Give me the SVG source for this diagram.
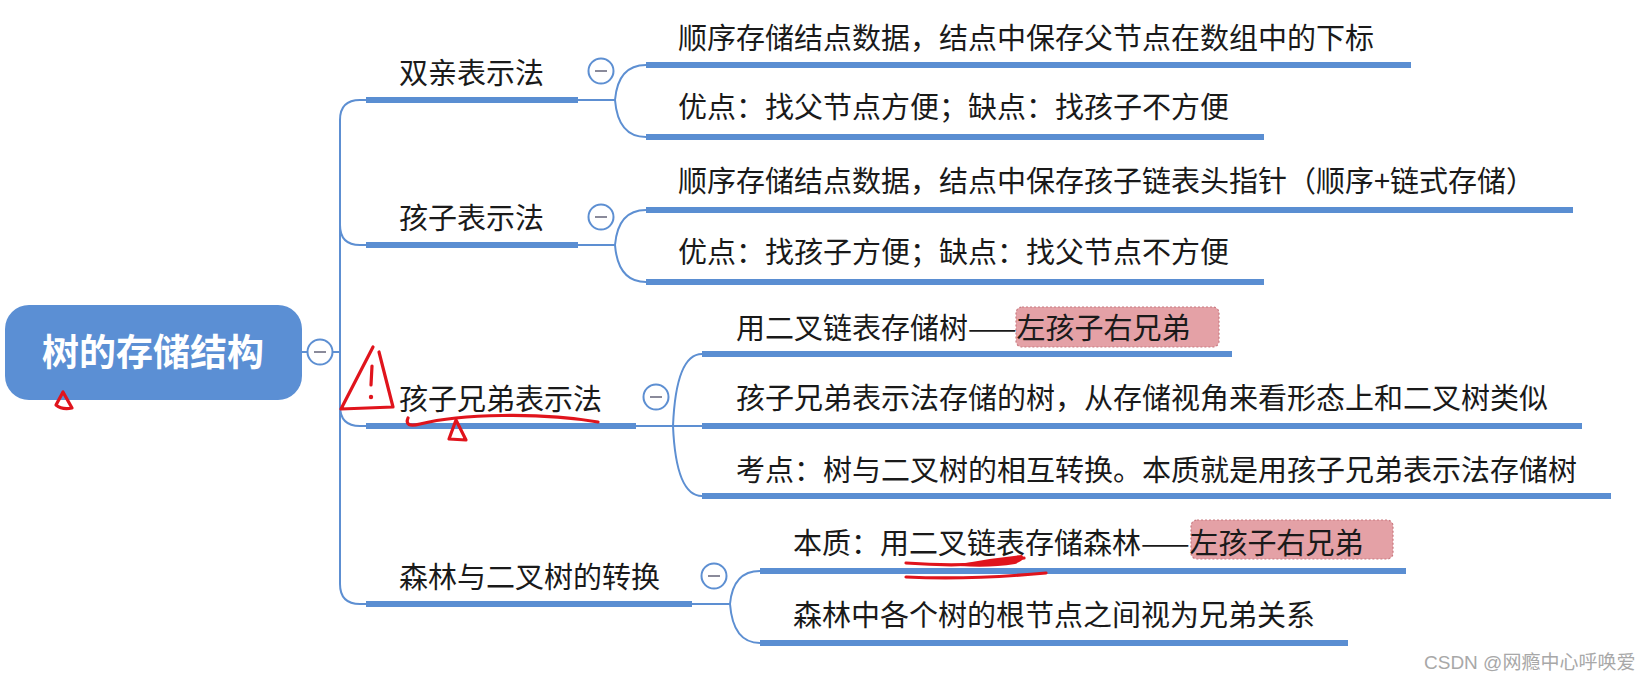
<svg xmlns="http://www.w3.org/2000/svg" width="1648" height="681" viewBox="0 0 1648 681">
<style>
.ul{stroke:#5a8ed2;stroke-width:6;fill:none}
.cn{stroke:#5d8fd2;stroke-width:2;fill:none}
.btn{fill:#fff;stroke:#5d8fd2;stroke-width:2}
.mn{stroke:#8a8a9a;stroke-width:2}
.t1{font-family:"Noto Sans CJK SC","Noto Sans",sans-serif;font-size:29px;fill:#1a1a1a}
.t2{font-family:"Noto Sans CJK SC","Noto Sans",sans-serif;font-size:29px;fill:#1a1a1a}
.hl{fill:#e4a1a6;stroke:#c97a80;stroke-width:1.2;stroke-dasharray:2 2}
.red{stroke:#e0141c;stroke-width:3.2;fill:none;stroke-linecap:round;stroke-linejoin:round}
</style>
<rect width="1648" height="681" fill="#fff"/>
<g id="connectors">
<line class="cn" x1="302" y1="352" x2="307" y2="352"/>
<line class="cn" x1="333" y1="352" x2="340" y2="352"/>
<path class="cn" d="M340,352 V120 Q340,100 360,100 H366"/>
<path class="cn" d="M340,352 V225 Q340,245 360,245 H366"/>
<path class="cn" d="M340,352 V406 Q340,426 360,426 H366"/>
<path class="cn" d="M340,352 V584 Q340,604 360,604 H366"/>
<path class="cn" d="M578,100 H615 M615,100 Q618,65 646,65 M615,100 Q618,137 646,137"/>
<path class="cn" d="M578,245 H615 M615,245 Q618,210 646,210 M615,245 Q618,282 646,282"/>
<path class="cn" d="M636,426 H702 M673,426 Q676,354 702,354 M673,426 Q676,496 702,496"/>
<path class="cn" d="M692,604 H730 M730,604 Q733,571 760,571 M730,604 Q733,643 760,643"/>
</g>
<g id="root">
<rect x="5" y="305" width="297" height="95" rx="24" fill="#5b8fd4"/>
<text x="153" y="366" text-anchor="middle" font-family="'Noto Sans CJK SC',sans-serif" font-size="37" font-weight="bold" fill="#fff">树的存储结构</text>
<circle class="btn" cx="320" cy="352" r="12.5"/><line class="mn" x1="314" y1="352" x2="326" y2="352"/>
</g>
<g id="shuangqin">
<line class="ul" x1="366" y1="100" x2="578" y2="100"/>
<text class="t1" x="399" y="84">双亲表示法</text>
<circle class="btn" cx="601" cy="71" r="12.5"/><line class="mn" x1="595" y1="71" x2="607" y2="71"/>
</g>
<g id="sq1"><line class="ul" x1="646" y1="65" x2="1411" y2="65"/><text class="t2" x="678" y="49">顺序存储结点数据，结点中保存父节点在数组中的下标</text></g>
<g id="sq2"><line class="ul" x1="646" y1="137" x2="1264" y2="137"/><text class="t2" x="678" y="118">优点：找父节点方便；缺点：找孩子不方便</text></g>
<g id="haizi">
<line class="ul" x1="366" y1="245" x2="578" y2="245"/>
<text class="t1" x="399" y="229">孩子表示法</text>
<circle class="btn" cx="601" cy="217" r="12.5"/><line class="mn" x1="595" y1="217" x2="607" y2="217"/>
</g>
<g id="hz1"><line class="ul" x1="646" y1="210" x2="1573" y2="210"/><text class="t2" x="678" y="192">顺序存储结点数据，结点中保存孩子链表头指针（顺序+链式存储）</text></g>
<g id="hz2"><line class="ul" x1="646" y1="282" x2="1264" y2="282"/><text class="t2" x="678" y="263">优点：找孩子方便；缺点：找父节点不方便</text></g>
<g id="haizixiongdi">
<line class="ul" x1="366" y1="426" x2="636" y2="426"/>
<text class="t1" x="399" y="410">孩子兄弟表示法</text>
<circle class="btn" cx="656" cy="397" r="12.5"/><line class="mn" x1="650" y1="397" x2="662" y2="397"/>
</g>
<g id="xd1"><line class="ul" x1="702" y1="354" x2="1232" y2="354"/><rect class="hl" x="1016" y="307" width="203" height="40" rx="6"/><text class="t2" x="736" y="339">用二叉链表存储树——左孩子右兄弟</text></g>
<g id="xd2"><line class="ul" x1="702" y1="426" x2="1582" y2="426"/><text class="t2" x="736" y="409">孩子兄弟表示法存储的树，从存储视角来看形态上和二叉树类似</text></g>
<g id="xd3"><line class="ul" x1="702" y1="496" x2="1611" y2="496"/><text class="t2" x="736" y="481">考点：树与二叉树的相互转换。本质就是用孩子兄弟表示法存储树</text></g>
<g id="senlin">
<line class="ul" x1="366" y1="604" x2="692" y2="604"/>
<text class="t1" x="399" y="588">森林与二叉树的转换</text>
<circle class="btn" cx="714" cy="576" r="12.5"/><line class="mn" x1="708" y1="576" x2="720" y2="576"/>
</g>
<g id="sl1"><line class="ul" x1="760" y1="571" x2="1406" y2="571"/><rect class="hl" x="1191" y="520" width="202" height="39" rx="6"/><text class="t2" x="793" y="554">本质：用二叉链表存储森林——左孩子右兄弟</text></g>
<g id="sl2"><line class="ul" x1="760" y1="643" x2="1348" y2="643"/><text class="t2" x="793" y="626">森林中各个树的根节点之间视为兄弟关系</text></g>
<g id="annotations">
<path class="red" d="M373,347 L341,409 L393,407 L379,352"/>
<path class="red" d="M372,366 L371,385"/>
<circle cx="371" cy="397" r="2.2" fill="#e0141c"/>
<path class="red" d="M408,418 Q404,428 420,424 C460,414 540,412 598,422"/>
<path class="red" d="M456,420 L449,439 L466,440 Z"/>
<path class="red" d="M63,392 L56,405 Q62,410 72,408 Z"/>
<path class="red" d="M906,563 Q960,567 1000,562 Q1018,559 1024,558" stroke-width="4"/>
<path d="M960,564 Q990,558 1022,555 Q1026,560 1015,564 Q990,568 960,566 Z" fill="#e0141c"/>
<path class="red" d="M906,577 Q970,580 1046,573" stroke-width="3.5"/>
</g>
<text x="1424" y="669" font-family="'Liberation Sans','Noto Sans CJK SC',sans-serif" font-size="19" fill="#a8a8a8">CSDN @网瘾中心呼唤爱</text>
</svg>
